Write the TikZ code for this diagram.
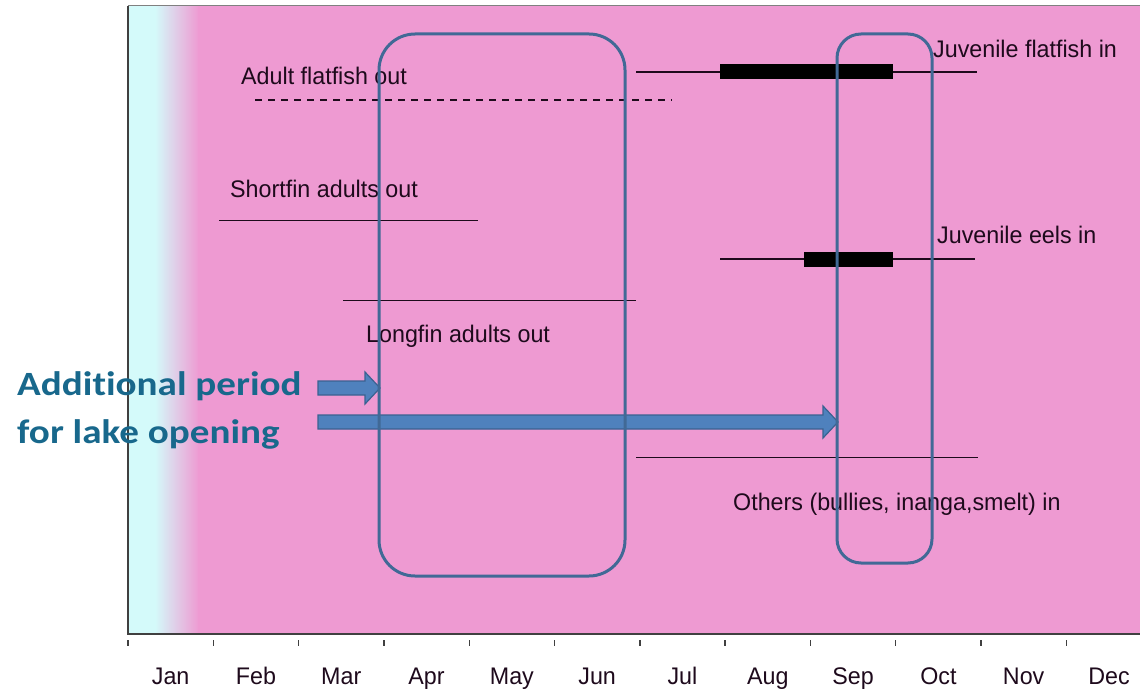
\documentclass[tikz,border=0pt]{standalone}
\usepackage{fontspec}
\usepackage{graphicx}
\setmainfont{Liberation Sans}
\newfontfamily\calloutfont{Carlito}[Ligatures=NoCommon]
\usetikzlibrary{calc}

\definecolor{chartpink}{RGB}{238,154,210}
\definecolor{chartcyan}{RGB}{212,250,250}
\definecolor{framegray}{RGB}{64,64,64}
\definecolor{windowblue}{RGB}{65,105,150}
\definecolor{arrowfill}{RGB}{79,129,189}
\definecolor{arrowedge}{RGB}{58,98,145}
\definecolor{callouttext}{RGB}{24,104,140}
\definecolor{labelink}{RGB}{30,10,28}

% horizontally squeezed / stretched text
\newcommand\squeezed[1]{\scalebox{0.97}[1]{#1}}
\newcommand\stretched[1]{\scalebox{1.15}[1]{#1}}

% block arrow from a tail coordinate to a tip coordinate (horizontal)
\newcommand\blockarrowpath[2]{%
  \draw[blockarrow] ($(#1)+(0,-7)$) -- ($(#2)+(-15,-7)$) -- ($(#2)+(-15,-16)$)
    -- (#2) -- ($(#2)+(-15,16)$) -- ($(#2)+(-15,7)$) -- ($(#1)+(0,7)$) -- cycle;}

\begin{document}
\begin{tikzpicture}[x=1pt,y=-1pt,
  lbl/.style={anchor=base west, inner sep=0pt, text=labelink, font=\fontsize{24}{28}\selectfont},
  monthlbl/.style={anchor=base, inner sep=0pt, text=labelink, font=\fontsize{24}{28}\selectfont},
  period/.style={line width=1.6pt, draw=labelink},
  peak/.style={fill=black},
  window/.style={draw=windowblue, line width=3pt},
  blockarrow/.style={fill=arrowfill, draw=arrowedge, line width=1.2pt, line join=miter},
  callout/.style={anchor=base west, inner sep=0pt, text=callouttext,
    font=\calloutfont\bfseries\fontsize{34}{48}\selectfont}]

\useasboundingbox (0,0) rectangle (1140,690);
\fill[white] (0,0) rectangle (1140,690);

% chart background: cyan January edge fading into pink
\fill[chartcyan] (128,6) rectangle (156,634);
\shade[left color=chartcyan, right color=chartpink] (155,6) rectangle (199,634);
\fill[chartpink] (198,6) rectangle (1140,634);

% frame and month axis
\draw[gray, line width=1pt] (128,6) -- (1140,6);
\draw[framegray, line width=1.5pt] (128,6) -- (128,634) -- (1140,634);
\foreach \k in {0,...,11}
  \draw[framegray, line width=1.4pt] ({128+85.3*\k},640) -- ({128+85.3*\k},646);
\foreach \m [count=\i from 0] in {Jan,Feb,Mar,Apr,May,Jun,Jul,Aug,Sep,Oct,Nov,Dec}
  \node[monthlbl] (month\i) at ({128+85.3*(\i+0.5)},684) {\squeezed{\m}};

% migration periods
\draw[period] (636,72) -- (977,72);
\fill[peak] (720,64.5) rectangle (893,79);
\draw[period, dash pattern=on 7pt off 6pt] (255,100) -- (672,100);
\draw[period] (219,220.5) -- (478,220.5);
\draw[period] (720,259) -- (975,259);
\fill[peak] (804,252) rectangle (893,267);
\draw[period] (343,300.5) -- (636,300.5);
\draw[period] (636,457.5) -- (978,457.5);

% labels
\node[lbl] (adultflat) at (241,85) {\squeezed{Adult flatfish out}};
\node[lbl] (juvflat) at (933,58) {\squeezed{Juvenile flatfish in}};
\node[lbl] (shortfin) at (230,197) {\squeezed{Shortfin adults out}};
\node[lbl] (juveel) at (937,243) {\squeezed{Juvenile eels in}};
\node[lbl] (longfin) at (366,342) {\squeezed{Longfin adults out}};
\node[lbl] (others) at (733,510) {\squeezed{Others (bullies, inanga,smelt) in}};

% callout and its arrows
\node[callout] (callout1) at (17,395) {\stretched{Additional period}};
\node[callout] (callout2) at (17,443) {\stretched{for lake opening}};
\coordinate (a1tail) at (318,388);
\coordinate (a1tip) at (380,388);
\coordinate (a2tail) at (318,422);
\coordinate (a2tip) at (838,422);
\blockarrowpath{a1tail}{a1tip}
\blockarrowpath{a2tail}{a2tip}

% lake opening windows
\draw[window, rounded corners=36pt] (379,34) rectangle (625,576);
\draw[window, rounded corners=24pt] (837,34) rectangle (932,563);
\end{tikzpicture}
\end{document}
